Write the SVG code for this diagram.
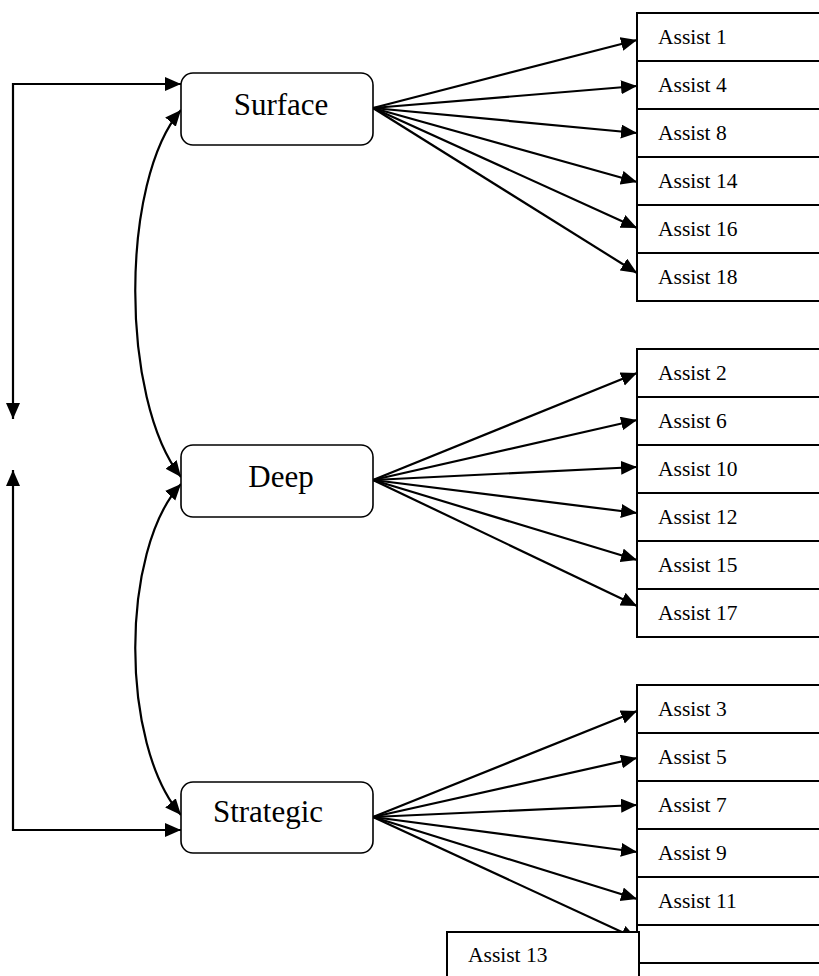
<svg xmlns="http://www.w3.org/2000/svg" width="819" height="976" viewBox="0 0 819 976">
<style>
.node{fill:#fff;stroke:#000;stroke-width:1.6}
.box{fill:#fff;stroke:#000;stroke-width:2}
.nt{font-family:"Liberation Serif","Times New Roman",serif;font-size:31px;fill:#000;text-anchor:middle}
.bt{font-family:"Liberation Serif","Times New Roman",serif;font-size:21.5px;fill:#000}
.c{fill:none;stroke:#000;stroke-width:2.2;marker-end:url(#ah)}
.cb{fill:none;stroke:#000;stroke-width:2.2;marker-end:url(#ah);marker-start:url(#ah)}
</style>
<defs>
<marker id="ah" markerUnits="userSpaceOnUse" markerWidth="17" markerHeight="15" refX="16" refY="7" orient="auto-start-reverse" viewBox="0 0 17 15">
<path d="M0,0 L16,7 L0,14 z" fill="#000"/>
</marker>
</defs>
<rect width="819" height="976" fill="#fff"/>
<g id="connectors">
<path class="cb" d="M13,419 L13,84 L181,84"/>
<path class="cb" d="M13,470 L13,830 L181,830"/>
<path class="cb" d="M181,110 C120,180 120,400 181,477"/>
<path class="cb" d="M181,484 C120,550 120,745 181,815"/>
<path class="c" d="M373,108 L637,40"/>
<path class="c" d="M373,108 L637,86"/>
<path class="c" d="M373,108 L637,133"/>
<path class="c" d="M373,108 L637,182"/>
<path class="c" d="M373,108 L637,228"/>
<path class="c" d="M373,108 L637,273"/>
<path class="c" d="M373,480 L637,373"/>
<path class="c" d="M373,480 L637,420"/>
<path class="c" d="M373,480 L637,467"/>
<path class="c" d="M373,480 L637,513"/>
<path class="c" d="M373,480 L637,560"/>
<path class="c" d="M373,480 L637,606"/>
<path class="c" d="M373,817 L637,711"/>
<path class="c" d="M373,817 L637,758"/>
<path class="c" d="M373,817 L637,805"/>
<path class="c" d="M373,817 L637,852"/>
<path class="c" d="M373,817 L637,899"/>
<path class="c" d="M373,817 L637,939"/>
</g>
<g id="surface"><rect class="node" x="181" y="73" width="192" height="72" rx="12"/><text class="nt" x="281" y="115">Surface</text></g>
<g id="deep"><rect class="node" x="181" y="445" width="192" height="72" rx="12"/><text class="nt" x="281" y="487">Deep</text></g>
<g id="strategic"><rect class="node" x="181" y="782" width="192" height="71" rx="12"/><text class="nt" x="268" y="822">Strategic</text></g>
<g id="a1"><rect class="box" x="637" y="13" width="200" height="48"/><text class="bt" x="658" y="44">Assist 1</text></g>
<g id="a4"><rect class="box" x="637" y="61" width="200" height="48"/><text class="bt" x="658" y="92">Assist 4</text></g>
<g id="a8"><rect class="box" x="637" y="109" width="200" height="48"/><text class="bt" x="658" y="140">Assist 8</text></g>
<g id="a14"><rect class="box" x="637" y="157" width="200" height="48"/><text class="bt" x="658" y="188">Assist 14</text></g>
<g id="a16"><rect class="box" x="637" y="205" width="200" height="48"/><text class="bt" x="658" y="236">Assist 16</text></g>
<g id="a18"><rect class="box" x="637" y="253" width="200" height="48"/><text class="bt" x="658" y="284">Assist 18</text></g>
<g id="a2"><rect class="box" x="637" y="349" width="200" height="48"/><text class="bt" x="658" y="380">Assist 2</text></g>
<g id="a6"><rect class="box" x="637" y="397" width="200" height="48"/><text class="bt" x="658" y="428">Assist 6</text></g>
<g id="a10"><rect class="box" x="637" y="445" width="200" height="48"/><text class="bt" x="658" y="476">Assist 10</text></g>
<g id="a12"><rect class="box" x="637" y="493" width="200" height="48"/><text class="bt" x="658" y="524">Assist 12</text></g>
<g id="a15"><rect class="box" x="637" y="541" width="200" height="48"/><text class="bt" x="658" y="572">Assist 15</text></g>
<g id="a17"><rect class="box" x="637" y="589" width="200" height="48"/><text class="bt" x="658" y="620">Assist 17</text></g>
<g id="a3"><rect class="box" x="637" y="685" width="200" height="48"/><text class="bt" x="658" y="716">Assist 3</text></g>
<g id="a5"><rect class="box" x="637" y="733" width="200" height="48"/><text class="bt" x="658" y="764">Assist 5</text></g>
<g id="a7"><rect class="box" x="637" y="781" width="200" height="48"/><text class="bt" x="658" y="812">Assist 7</text></g>
<g id="a9"><rect class="box" x="637" y="829" width="200" height="48"/><text class="bt" x="658" y="860">Assist 9</text></g>
<g id="a11"><rect class="box" x="637" y="877" width="200" height="48"/><text class="bt" x="658" y="908">Assist 11</text></g>
<g id="empty1"><rect class="box" x="637" y="925" width="200" height="38"/></g>
<g id="empty2"><rect class="box" x="637" y="963" width="200" height="48"/></g>
<g id="a13"><rect class="box" x="447" y="932" width="192" height="60"/><text class="bt" x="468" y="962">Assist 13</text></g>
</svg>
